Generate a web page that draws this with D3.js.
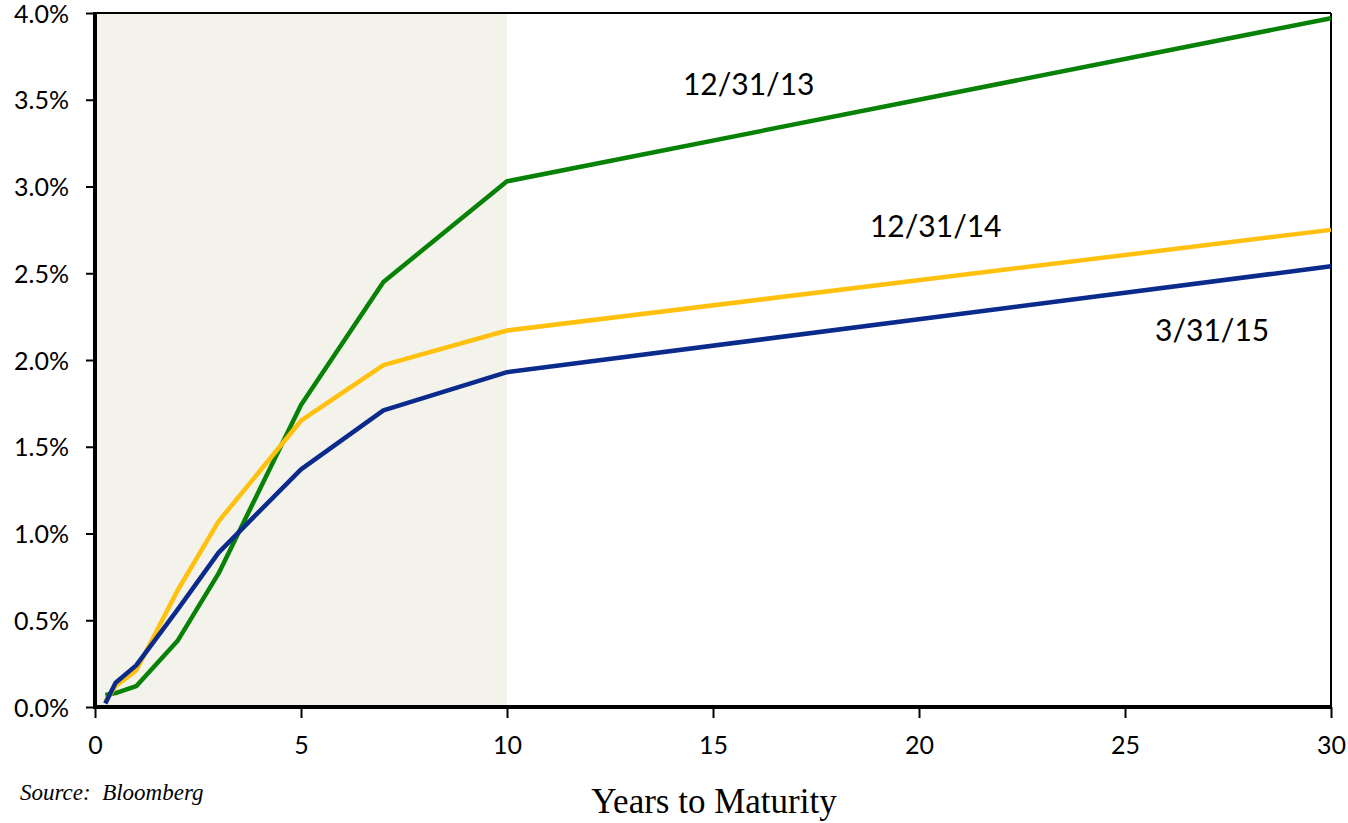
<!DOCTYPE html>
<html>
<head>
<meta charset="utf-8">
<script src="https://cdn.jsdelivr.net/npm/d3@7"></script>
<style>
html,body{margin:0;padding:0;background:#fff;}
svg{display:block;}
</style>
</head>
<body>
<svg id="chart" width="1348" height="823"></svg>
<script>
const maturities = [0.25, 0.5, 1, 2, 3, 5, 7, 10, 30];
const yields2013 = [0.07, 0.08, 0.12, 0.38, 0.77, 1.74, 2.45, 3.03, 3.97];
const yields2014 = [0.03, 0.12, 0.21, 0.67, 1.07, 1.65, 1.97, 2.17, 2.75];
const yields2015 = [0.02, 0.14, 0.24, 0.56, 0.89, 1.37, 1.71, 1.93, 2.54];
const seriesNames = ["12/31/13", "12/31/14", "3/31/15"];
const seriesColors = ["#078207", "#FFC10E", "#0A2A8C"];
const xTicks = [0, 5, 10, 15, 20, 25, 30];
const yTicks = [0, 0.5, 1.0, 1.5, 2.0, 2.5, 3.0, 3.5, 4.0];
const shadedRange = [0, 10];
const labelPos = [[14.27, 3.53], [18.81, 2.71], [25.73, 2.11]]; // [years, %] anchors for series labels

const svg = d3.select("#chart");
const x = d3.scaleLinear().domain([0, 30]).range([95, 1331]);
const y = d3.scaleLinear().domain([0, 4]).range([707, 13]);

// shaded region
svg.append("rect")
  .attr("x", x(shadedRange[0])).attr("y", y(4))
  .attr("width", x(shadedRange[1]) - x(shadedRange[0]))
  .attr("height", y(0) - y(4))
  .attr("fill", "#F3F2EB");

// frame top & right (thin)
svg.append("line").attr("x1", x(0)).attr("x2", x(30)).attr("y1", y(4)).attr("y2", y(4))
  .attr("stroke", "#000").attr("stroke-width", 2);
svg.append("line").attr("x1", x(30)).attr("x2", x(30)).attr("y1", y(4)).attr("y2", y(0))
  .attr("stroke", "#000").attr("stroke-width", 2);

// lines
const series = [yields2013, yields2014, yields2015];
const line = d3.line().x(d => x(d[0])).y(d => y(d[1]));
series.forEach((vals, i) => {
  svg.append("path")
    .datum(maturities.map((m, j) => [m, vals[j]]))
    .attr("d", line)
    .attr("fill", "none")
    .attr("stroke", seriesColors[i])
    .attr("stroke-width", 4.5)
    .attr("stroke-linejoin", "round");
});

// axes
const yAxis = d3.axisLeft(y).tickValues(yTicks).tickFormat(d => d.toFixed(1) + "%").tickSize(9).tickPadding(17);
const gy = svg.append("g").attr("transform", `translate(${x(0)},0)`).call(yAxis);
gy.select(".domain").remove();
gy.selectAll(".tick line").attr("stroke", "#000").attr("stroke-width", 2);
gy.selectAll(".tick text").attr("font-family", "Lato, 'Open Sans', sans-serif").attr("font-size", 25).attr("fill", "#000").attr("dy", "0.36em");

const xAxis = d3.axisBottom(x).tickValues(xTicks).tickFormat(d3.format("d")).tickSize(11).tickPadding(18);
const gx = svg.append("g").attr("transform", `translate(0,${y(0)})`).call(xAxis);
gx.select(".domain").remove();
gx.selectAll(".tick line").attr("stroke", "#000").attr("stroke-width", 2);
gx.selectAll(".tick text").attr("font-family", "Lato, 'Open Sans', sans-serif").attr("font-size", 25).attr("fill", "#000");

// thick left & bottom axis lines
svg.append("line").attr("x1", x(0)).attr("x2", x(0)).attr("y1", y(4) - 1).attr("y2", y(0) + 2)
  .attr("stroke", "#000").attr("stroke-width", 4);
svg.append("line").attr("x1", x(0) - 2).attr("x2", x(30) + 1).attr("y1", y(0)).attr("y2", y(0))
  .attr("stroke", "#000").attr("stroke-width", 4);

// series labels
seriesNames.forEach((name, i) => {
  svg.append("text")
    .attr("x", x(labelPos[i][0])).attr("y", y(labelPos[i][1]))
    .attr("font-family", "Lato, 'Open Sans', sans-serif")
    .attr("font-size", 30)
    .attr("fill", "#000")
    .text(name);
});

// axis title
svg.append("text")
  .attr("x", 714).attr("y", 813)
  .attr("text-anchor", "middle")
  .attr("font-family", "'Liberation Serif', 'DejaVu Serif', serif")
  .attr("font-size", 35)
  .attr("fill", "#000")
  .text("Years to Maturity");

// source
svg.append("text")
  .attr("x", 20).attr("y", 800)
  .attr("font-family", "'Liberation Serif', 'DejaVu Serif', serif")
  .attr("font-style", "italic")
  .attr("font-size", 23)
  .attr("fill", "#000")
  .attr("xml:space", "preserve")
  .text("Source:  Bloomberg");
</script>
</body>
</html>
